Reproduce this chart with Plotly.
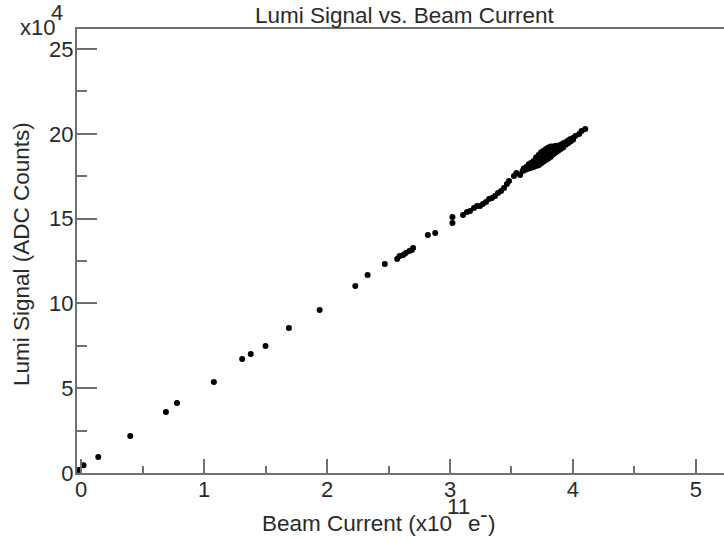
import plotly.graph_objects as go

# Beam current (x1e11 e-) and Lumi signal (x1e4 ADC counts)
sparse_x = [-0.02, 0.02, 0.14, 0.40, 0.69, 0.78, 1.08, 1.31, 1.38, 1.50, 1.69, 1.94,
            2.23, 2.33, 2.47, 2.57, 2.59, 2.62, 2.64, 2.67, 2.69, 2.70, 2.82, 2.88,
            3.02, 3.02]
sparse_y = [0.18, 0.45, 0.94, 2.18, 3.60, 4.13, 5.37, 6.72, 7.02, 7.49, 8.55, 9.61,
            11.03, 11.67, 12.32, 12.62, 12.79, 12.85, 12.97, 13.09, 13.15, 13.27, 14.03, 14.15,
            14.74, 15.09]

chain_x = [3.106, 3.138, 3.163, 3.195, 3.220, 3.244, 3.268, 3.293, 3.317, 3.341, 3.366,
           3.390, 3.415, 3.439, 3.463, 3.480, 3.52, 3.54, 3.57, 3.59]
chain_y = [15.21, 15.39, 15.45, 15.63, 15.74, 15.74, 15.86, 15.98, 16.16, 16.21, 16.33,
           16.51, 16.63, 16.80, 17.04, 17.22, 17.51, 17.69, 17.57, 17.81]

cluster_x = [3.60, 3.60, 3.62, 3.62, 3.64, 3.64, 3.64, 3.66, 3.66, 3.66,
             3.68, 3.68, 3.68, 3.70, 3.70, 3.70, 3.70, 3.72, 3.72, 3.72, 3.72,
             3.74, 3.74, 3.74, 3.74, 3.74, 3.76, 3.76, 3.76, 3.76, 3.76,
             3.78, 3.78, 3.78, 3.78, 3.78, 3.80, 3.80, 3.80, 3.80, 3.80,
             3.82, 3.82, 3.82, 3.82, 3.82, 3.84, 3.84, 3.84, 3.84,
             3.86, 3.86, 3.86, 3.86, 3.88, 3.88, 3.88, 3.90, 3.90, 3.90, 3.92, 3.92, 3.92,
             3.94, 3.94, 3.96, 3.96, 3.98, 3.98, 4.00, 4.00,
             4.02, 4.05, 4.07, 4.10]
cluster_y = [17.85, 17.95, 17.90, 18.05, 17.95, 18.10, 18.20, 18.00, 18.15, 18.30,
             18.05, 18.25, 18.40, 18.10, 18.30, 18.45, 18.60, 18.15, 18.35, 18.55, 18.75,
             18.25, 18.40, 18.55, 18.70, 18.90, 18.35, 18.50, 18.65, 18.85, 19.00,
             18.45, 18.60, 18.75, 18.95, 19.10, 18.55, 18.70, 18.85, 19.05, 19.20,
             18.65, 18.80, 18.95, 19.10, 19.25, 18.80, 18.95, 19.10, 19.25,
             18.90, 19.00, 19.15, 19.30, 19.00, 19.15, 19.30, 19.10, 19.25, 19.35, 19.20, 19.35, 19.45,
             19.35, 19.50, 19.45, 19.60, 19.55, 19.70, 19.65, 19.75,
             19.87, 19.99, 20.17, 20.28]

x_vals = sparse_x + chain_x + cluster_x
y_vals = sparse_y + chain_y + cluster_y

x_ticks = [0, 1, 2, 3, 4, 5]
y_ticks = [0, 5, 10, 15, 20, 25]

FONT = "Arial, Liberation Sans, sans-serif"
AXC = "#707070"
TXC = "#2a2a2a"

W, H = 724, 539
L, T, B = 77, 29, 66
PW, PH = W - L, H - T - B  # 647 x 444


def px(page_x):
    return (page_x - L) / PW


def py(page_y):
    return (H - B - page_y) / PH


fig = go.Figure()
fig.add_trace(go.Scatter(
    x=x_vals, y=y_vals, mode="markers",
    marker=dict(color="black", size=6, line=dict(width=0)),
    cliponaxis=False, showlegend=False, hoverinfo="skip",
))

fig.update_layout(
    width=W, height=H,
    margin=dict(l=L, r=0, t=T, b=B),
    paper_bgcolor="white", plot_bgcolor="white",
    font=dict(family=FONT, color=TXC, size=22),
    xaxis=dict(
        range=[-0.033, 5.228], tickvals=x_ticks, ticktext=[str(v) for v in x_ticks],
        showgrid=False, zeroline=False, showline=True, linecolor=AXC, linewidth=2,
        mirror=True, ticks="inside", ticklen=14, tickwidth=1.5, tickcolor=AXC,
        tickfont=dict(size=22, color=TXC), ticklabelstandoff=-4,
        minor=dict(dtick=0.5, tick0=0, ticks="inside", ticklen=7, tickwidth=1.5, tickcolor=AXC, showgrid=False),
    ),
    yaxis=dict(
        range=[0, 26.18], tickvals=y_ticks, ticktext=[str(v) for v in y_ticks],
        showgrid=False, zeroline=False, showline=True, linecolor=AXC, linewidth=2,
        mirror=False, ticks="inside", ticklen=20, tickwidth=1.5, tickcolor=AXC,
        tickfont=dict(size=22, color=TXC), ticklabelstandoff=-3,
        minor=dict(dtick=2.5, tick0=0, ticks="inside", ticklen=10, tickwidth=1.5, tickcolor=AXC, showgrid=False),
    ),
)


def note(text, x, y, xanchor="left", size=22.5, angle=0):
    fig.add_annotation(
        text=text, xref="paper", yref="paper", x=x, y=y,
        xanchor=xanchor, yanchor="middle", textangle=angle,
        showarrow=False, font=dict(size=size, color=TXC), borderpad=0,
    )


note("Lumi Signal vs. Beam Current", px(254), py(15))
note("Lumi Signal (ADC Counts)", px(21), py(254), xanchor="center", angle=-90)
note("x10", px(19), py(28), size=22)
note("4", px(50), py(12), size=22)
note("Beam Current (x10", px(261), py(523))
note("11", px(446), py(507))
note("e", px(467), py(523))
note("-", px(479), py(514))
note(")", px(487), py(523))

fig.write_html("out.html", config={"displayModeBar": False},
               post_script="document.body.style.margin='0';")
